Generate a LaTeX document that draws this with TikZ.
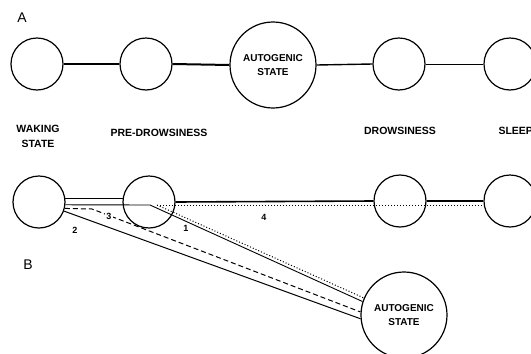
\documentclass[tikz,border=0pt]{standalone}
\usepackage{fontspec}
\setmainfont{Liberation Sans}
\usepackage{tikz}
\usetikzlibrary{calc,positioning}

\begin{document}
\begin{tikzpicture}[x=1pt, y=-1pt,
  stage/.style={circle, draw, line width=1.2pt, minimum size=52pt, inner sep=0pt},
  bigstage/.style={circle, draw, line width=1.2pt, minimum size=86pt, inner sep=0pt, align=center, font=\fontsize{10}{14}\selectfont\bfseries},
  lab/.style={align=center, font=\fontsize{10.5}{15}\selectfont\bfseries},
  num/.style={font=\fontsize{9}{10}\selectfont\bfseries, inner sep=1pt},
  panel/.style={font=\fontsize{14}{14}\selectfont}
]
\useasboundingbox (0,0) rectangle (531,354);
% A: straight sequence
\node[panel] (A) at (22,18) {A};
\node[stage] (wA) at (37,64) {};
\node[stage] (pA) at (146,64) {};
\node[bigstage] (aA) at (273,65) {AUTOGENIC\\STATE};
\node[stage] (dA) at (399,64) {};
\node[stage] (sA) at (510,64) {};
\draw[line width=2pt] (wA.east) -- (pA.west);
\draw[line width=2pt] (pA.east) -- (aA.west);
\draw[line width=1.4pt] (aA.east) -- (dA.west);
\draw[line width=0.8pt] (dA.east) -- (sA.west);
% labels between the rows
\node[lab] (wL) at (38,136) {WAKING\\STATE};
\node[lab] (pL) at (159,133) {PRE-DROWSINESS};
\node[lab] (dL) at (400,131) {DROWSINESS};
\node[lab, anchor=west] (sL) at (495,131) {SLEEP};
% B: the four routes
\node[panel] (B) at (28,265) {B};
\node[stage] (wB) at (39,202) {};
\node[stage] (pB) at (149,202) {};
\node[stage] (dB) at (400,201) {};
\node[stage] (sB) at (510,201) {};
\node[bigstage] (aB) at (404,315) {AUTOGENIC\\STATE};
\coordinate (k1) at (150,205);
\coordinate (k2) at (92,209);
\coordinate (k3) at (157,205);
% route 4
\draw[line width=0.9pt] (wB.7) -- (pB.173);
\draw[line width=1.6pt] (pB.east) -- (dB.west);
\draw[line width=1.6pt] (dB.east) -- (sB.west);
% route 1
\draw[line width=0.9pt] (wB.-6) -- (k1) -- (aB.162);
\draw[line width=1pt, dotted] (k3) -- (k3 -| sB.west);
\draw[line width=1pt, dotted] (k3) -- (aB.157);
% routes 3 and 2
\draw[line width=1pt, dash pattern=on 5pt off 3pt] (wB.-14) -- (k2) -- (aB.176);
\draw[line width=1pt] (wB.-20) -- (aB.185);
\node[num] (n1) at (186,228) {1};
\node[num] (n2) at (75,230) {2};
\node[num, fill=white] (n3) at (109,216) {3};
\node[num] (n4) at (264,217) {4};
\end{tikzpicture}
\end{document}
